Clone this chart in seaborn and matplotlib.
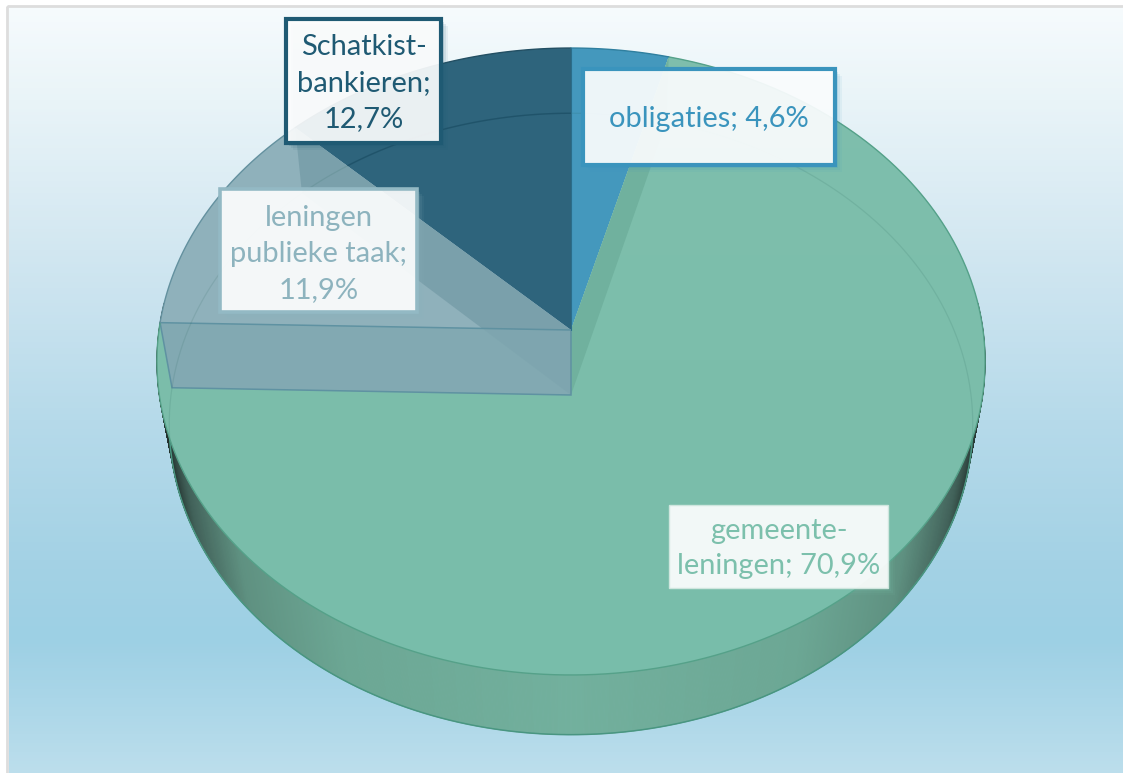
import numpy as np
import seaborn as sns
import matplotlib.pyplot as plt
from matplotlib.collections import PolyCollection
from matplotlib.colors import LinearSegmentedColormap
from matplotlib.patches import Polygon, Rectangle

# shares in chart order, clockwise from 12 o'clock
categories = ["obligaties", "gemeenteleningen", "leningen publieke taak", "Schatkistbankieren"]
shares = [4.6, 70.9, 11.9, 12.7]
label_texts = ["obligaties; 4,6%", "gemeente-\nleningen; 70,9%", "leningen\npublieke taak;\n11,9%",
               "Schatkist-\nbankieren;\n12,7%"]
slice_colors = ["#4498bd", "#7bbeaa", "#8fb1bb", "#2e647c"]
text_colors = ["#3a94bd", "#7cc0ac", "#8db3be", "#1f5a73"]

sns.set_theme(style="white")
plt.rcParams["font.family"] = ["Lato", "DejaVu Sans"]

# perspective of the two pie faces (pixels)
TOP = dict(cx=571, cy=330, a=412, b=310.3, k=0.1005)
BOT = dict(cx=571, cy=395, a=400, b=308.0, k=0.0932)


def project(theta, face):
    th = np.radians(theta)
    d = 1 + face["k"] * np.cos(th)
    return face["cx"] + face["a"] * np.sin(th) / d, face["cy"] - face["b"] * np.cos(th) / d


def view_angle(theta):
    # the renderer pulls slice edges a little towards the vertical
    return theta - 1.6 * np.sin(np.radians(4 * theta))


def wedge(start, stop, face):
    th = np.linspace(start, stop, 200)
    x, y = project(th, face)
    return np.vstack([[face["cx"], face["cy"]], np.column_stack([x, y])])


def wall(theta):
    # radial wall of a slice edge, between top and bottom face
    xt, yt = project(theta, TOP)
    xb, yb = project(theta, BOT)
    return [(TOP["cx"], TOP["cy"]), (xt, yt), (xb, yb), (BOT["cx"], BOT["cy"])]


def main():
    fig = plt.figure(figsize=(11.23, 7.73), dpi=100, facecolor="white")
    ax = fig.add_axes([0, 0, 1, 1])

    # panel background
    stops = [(7, "#f6fbfd"), (100, "#e9f4f8"), (250, "#d2e7f1"), (420, "#b6daea"),
             (560, "#a4d2e5"), (640, "#9dd0e4"), (700, "#aad6e8"), (773, "#bcdeec")]
    bg_cmap = LinearSegmentedColormap.from_list("bg", [((y - 7) / 766, c) for y, c in stops])
    ax.imshow(np.linspace(0, 1, 766)[:, None], cmap=bg_cmap, extent=(9, 1123, 773, 7), aspect="auto", zorder=0)
    ax.add_patch(Rectangle((7, 5.5), 1130, 790, fill=False, edgecolor="#dddddd", linewidth=2, zorder=1))

    # slice edges
    edges = np.concatenate([[0], np.cumsum(shares) / np.sum(shares) * 360])
    view = view_angle(edges)
    view[-1] = 360

    # outer wall with shading towards both ends
    side_cmap = LinearSegmentedColormap.from_list(
        "side", [(0, "#72b09d"), (0.55, "#6ca794"), (0.8, "#5f9181"), (0.93, "#42625a"), (1, "#202e2a")])
    th = np.linspace(85, 275, 900)
    xt, yt = project(th, TOP)
    xb, yb = project(th, BOT)
    quads, shade = [], []
    for i in range(len(th) - 1):
        quads.append([(xt[i], yt[i]), (xt[i + 1], yt[i + 1]), (xb[i + 1], yb[i + 1]), (xb[i], yb[i])])
        shade.append(min(abs(xb[i] - 571) / 402, 1))
    side = PolyCollection(quads, array=np.array(shade), cmap=side_cmap, clim=(0, 1), edgecolors="face", linewidths=0.6, zorder=2)
    ax.add_collection(side)
    bx, by = project(np.linspace(90, 270, 300), BOT)
    ax.plot(bx, by, color="#4f9e88", lw=1.1, zorder=3)

    # top face slices, the big one lightly shaded from top to bottom
    for i in range(4):
        ax.add_patch(Polygon(wedge(view[i], view[i + 1], TOP), closed=True, facecolor=slice_colors[i], edgecolor="none", zorder=4))
    green_cmap = LinearSegmentedColormap.from_list("green", ["#7fbfad", "#7cbeab", "#78bdaa"])
    green = ax.imshow(np.linspace(0, 1, 640)[:, None], cmap=green_cmap, extent=(150, 990, 680, 40), aspect="auto", zorder=4.5)
    green_clip = Polygon(wedge(view[1], view[2], TOP), closed=True, transform=ax.transData)
    green.set_clip_path(green_clip)

    # walls seen through the glass
    ax.add_patch(Polygon(wall(view[1]), closed=True, facecolor="#70b19e", edgecolor="none", zorder=5))
    ax.add_patch(Polygon(wall(view[3]), closed=True, facecolor="#7ea3ae", edgecolor="none", zorder=5))
    ax.add_patch(Polygon(wall(view[2]), closed=True, facecolor="#82a9b2", edgecolor="#5f92a2", linewidth=1.1, zorder=6))
    ax.add_patch(Polygon(wall(view[3]), closed=True, facecolor="#5f8a98", edgecolor="none", alpha=0.1, zorder=6.5))

    # bottom face seen from above, only clear inside the dark slice
    th = np.linspace(0, 360, 500)
    bx, by = project(th, BOT)
    ax.plot(bx, by, color="#1f5a50", lw=0.9, alpha=0.12, zorder=7)
    mask = (th > view[3]) & (bx > 348)
    ax.plot(bx[mask], by[mask], color="#1d5068", lw=1, alpha=0.8, zorder=7)

    # outlines of the top face
    tx, ty = project(np.linspace(view[1], view[2], 400), TOP)
    ax.plot(tx, ty, color="#55a189", lw=1.0, zorder=8)
    tx, ty = project(np.linspace(view[2], view[3], 100), TOP)
    ax.plot(tx, ty, color="#64919f", lw=1.0, zorder=8)
    tx, ty = project(np.linspace(view[3], 360, 100), TOP)
    ax.plot(tx, ty, color="#234f63", lw=1.0, zorder=8)
    tx, ty = project(np.linspace(0, view[1], 40), TOP)
    ax.plot(tx, ty, color="#2f7f9f", lw=1.0, zorder=8)
    ax.plot([571, 571], [48, 330], color="#2b6d8a", lw=0.8, zorder=8)

    # data labels: x0, y0, x1, y1 of each box in chart order
    boxes = [(583, 69, 835, 165), (669, 505, 888, 588), (220, 189, 417, 312), (286, 19, 441, 143)]
    edge_widths = [3, 1, 2.6, 3]
    edge_cols = [text_colors[0], "#cfe6de", "#93b9c4", text_colors[3]]
    text_shift = [2, 2, 3.5, 2]
    for i, (x0, y0, x1, y1) in enumerate(boxes):
        for off, alpha in [(7, 0.07), (5, 0.1), (3, 0.14)]:
            ax.add_patch(Rectangle((x0 + off, y0 + off), x1 - x0, y1 - y0, facecolor=text_colors[i], edgecolor="none", alpha=alpha, zorder=9))
        ax.add_patch(Rectangle((x0, y0), x1 - x0, y1 - y0, facecolor=(1, 1, 1, 0.91), edgecolor=edge_cols[i], linewidth=edge_widths[i], zorder=10))
        ax.text((x0 + x1) / 2, (y0 + y1) / 2 + text_shift[i], label_texts[i], color=text_colors[i], fontsize=20.9,
                ha="center", va="center", linespacing=1.46, zorder=11)

    ax.set_xlim(0, 1123)
    ax.set_ylim(773, 0)
    ax.axis("off")
    fig.savefig("out.png", dpi=100)


if __name__ == "__main__":
    main()
